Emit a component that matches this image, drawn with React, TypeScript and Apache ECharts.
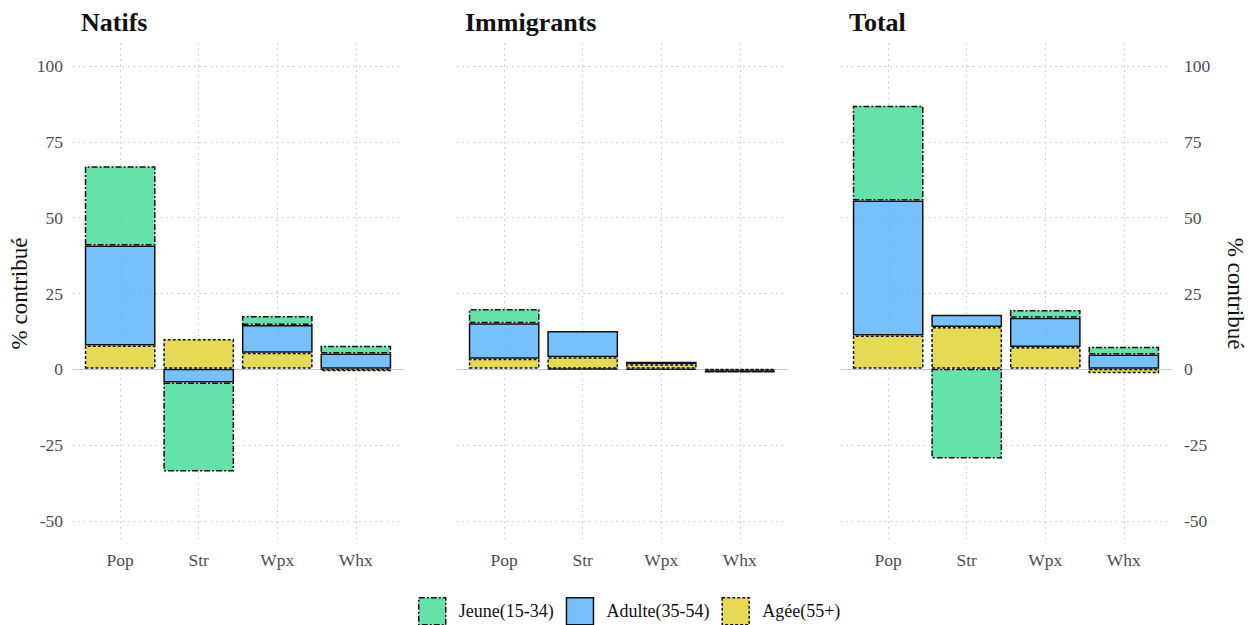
import React, { useEffect, useRef } from "react";
import * as echarts from "echarts";

const categories = ["Pop", "Str", "Wpx", "Whx"];
const panelTitles = ["Natifs", "Immigrants", "Total"];
const seriesNames = ["Jeune(15-34)", "Adulte(35-54)", "Agée(55+)"];
const yTicksMin = -50;
const yTicksMax = 100;
const yTickStep = 25;

// values (% contribué)
const natifsJeune = [26.1, -29.4, 3.0, 2.6];
const natifsAdulte = [33.0, -4.5, 9.1, 5.0];
const natifsAgee = [7.7, 9.8, 5.3, -0.8];

const immJeune = [4.7, -0.2, -0.3, -0.1];
const immAdulte = [11.7, 8.7, 0.8, -0.3];
const immAgee = [3.3, 3.8, 1.5, -0.6];

const totJeune = [31.3, -29.6, 2.6, 2.6];
const totAdulte = [44.5, 4.0, 9.6, 4.7];
const totAgee = [11.0, 13.8, 7.2, -1.5];

const panelData = [
  { jeune: natifsJeune, adulte: natifsAdulte, agee: natifsAgee },
  { jeune: immJeune, adulte: immAdulte, agee: immAgee },
  { jeune: totJeune, adulte: totAdulte, agee: totAgee },
];

const FONT = "'Liberation Serif', 'DejaVu Serif', serif";

const styles: Record<string, any> = {
  "Jeune(15-34)": {
    color: "rgba(62,217,149,0.8)",
    borderColor: "#111",
    borderWidth: 1.5,
    borderType: [6, 2, 2, 2],
  },
  "Adulte(35-54)": {
    color: "rgba(84,177,250,0.8)",
    borderColor: "#111",
    borderWidth: 1.5,
    borderType: "solid",
  },
  "Agée(55+)": {
    color: "rgba(224,208,40,0.8)",
    borderColor: "#111",
    borderWidth: 1.5,
    borderType: [3, 2],
  },
};

export default function App() {
  const ref = useRef<HTMLDivElement>(null);
  useEffect(() => {
    if (!ref.current) return;
    const chart = echarts.init(ref.current, undefined, { renderer: "svg" });
    const panelLefts = [73, 457, 841];
    const W = 330;
    const band = W / 4.2;
    const grids: any[] = [];
    const xAxes: any[] = [];
    const yAxes: any[] = [];
    const series: any[] = [];
    const dotted = { color: "#c8c8c8", width: 1, type: [1.5, 4] };

    panelLefts.forEach((L, i) => {
      // W grid: horizontal grid lines, y labels, zero line
      grids.push({ left: L, width: W, top: 66, height: 455 });
      // V grid: vertical grid lines
      grids.push({ left: L, width: W, top: 43, height: 500 });
      // B grid: bars
      grids.push({ left: L + 0.6 * band - 0.5 * band, width: 4 * band, top: 43, height: 500 });

      xAxes.push({
        type: "value",
        gridIndex: 3 * i,
        min: 0.4,
        max: 4.6,
        axisLine: { show: true, onZero: true, lineStyle: { color: "#c6c6c6", width: 1 } },
        axisTick: { show: false },
        axisLabel: { show: false },
        splitLine: { show: false },
      });
      xAxes.push({
        type: "value",
        gridIndex: 3 * i + 1,
        min: 0.4,
        max: 4.6,
        axisLine: { show: false },
        axisTick: { show: false },
        axisLabel: { show: false },
        splitLine: { show: true, showMinLine: false, showMaxLine: false, lineStyle: dotted },
      });
      xAxes.push({
        type: "category",
        gridIndex: 3 * i + 2,
        data: categories,
        axisLine: { show: false },
        axisTick: { show: false },
        axisLabel: { color: "#4d4d4d", fontSize: 17.5, fontFamily: FONT, margin: 8 },
        splitLine: { show: false },
      });

      const showLabels = i !== 1;
      yAxes.push({
        type: "value",
        gridIndex: 3 * i,
        min: yTicksMin,
        max: yTicksMax,
        interval: yTickStep,
        position: i === 2 ? "right" : "left",
        axisLine: { show: false },
        axisTick: { show: false },
        axisLabel: {
          show: showLabels,
          color: "#4d4d4d",
          fontSize: 17.5,
          fontFamily: FONT,
          margin: i === 2 ? 13 : 10,
        },
        splitLine: { show: true, lineStyle: dotted },
        name: showLabels ? "% contribué" : "",
        nameLocation: "middle",
        nameGap: i === 2 ? 53 : 42,
        nameRotate: i === 2 ? -90 : 90,
        nameTextStyle: { fontSize: 23, color: "#111", fontFamily: FONT },
      });
      yAxes.push({ type: "value", gridIndex: 3 * i + 1, min: -57.5, max: 107.5, show: false });
      yAxes.push({ type: "value", gridIndex: 3 * i + 2, min: -57.5, max: 107.5, show: false });

      const d = panelData[i];
      const order: [string, number[]][] = [
        ["Agée(55+)", d.agee],
        ["Adulte(35-54)", d.adulte],
        ["Jeune(15-34)", d.jeune],
      ];
      order.forEach(([name, vals]) => {
        series.push({
          type: "bar",
          name,
          xAxisIndex: 3 * i + 2,
          yAxisIndex: 3 * i + 2,
          stack: "p" + i,
          barWidth: "90%",
          data: vals,
          itemStyle: styles[name],
          emphasis: { disabled: true },
        });
      });
    });

    chart.setOption({
      animation: false,
      backgroundColor: "#ffffff",
      title: panelTitles.map((t, i) => ({
        text: t,
        left: panelLefts[i] + 8,
        top: 9,
        padding: 0,
        textStyle: { fontSize: 26, fontWeight: "bold", color: "#111", fontFamily: FONT },
      })),
      legend: {
        data: seriesNames.map((n) => ({ name: n, itemStyle: styles[n] })),
        left: 418,
        top: 597,
        itemWidth: 27,
        itemHeight: 27,
        itemGap: 12,
        icon: "rect",
        padding: 0,
        selectedMode: false,
        textStyle: { fontSize: 18, color: "#111", fontFamily: FONT, padding: [0, 0, 0, 8] },
      },
      grid: grids,
      xAxis: xAxes,
      yAxis: yAxes,
      series,
    });
    return () => chart.dispose();
  }, []);
  return (
    <div
      ref={ref}
      style={{ position: "fixed", left: 0, top: 0, width: 1250, height: 625, background: "#fff" }}
    />
  );
}
